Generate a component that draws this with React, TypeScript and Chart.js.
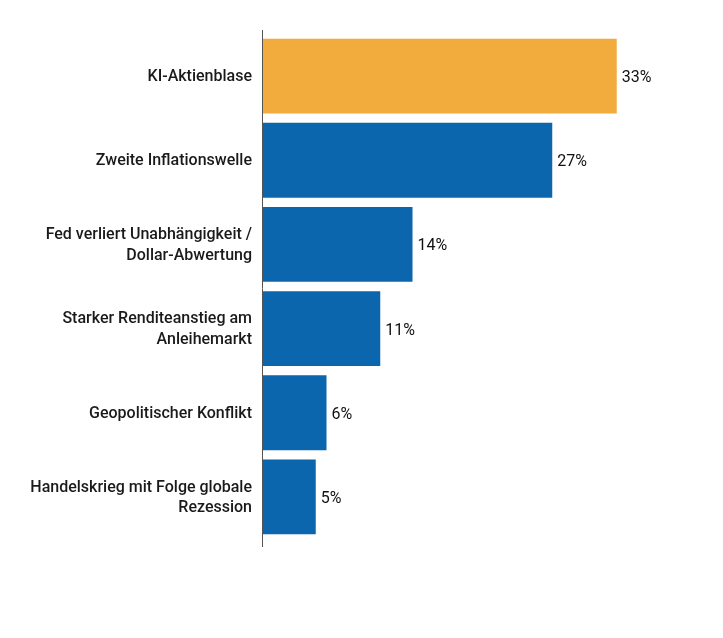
import React, { useEffect, useRef } from "react";
import { Chart, registerables } from "chart.js";

Chart.register(...registerables);

const categories: (string | string[])[] = [
  "KI-Aktienblase",
  "Zweite Inflationswelle",
  ["Fed verliert Unabhängigkeit /", "Dollar-Abwertung"],
  ["Starker Renditeanstieg am", "Anleihemarkt"],
  "Geopolitischer Konflikt",
  ["Handelskrieg mit Folge globale", "Rezession"],
];
const values: number[] = [33, 27, 14, 11, 6, 5];
const barColors: string[] = ["#F2AC3E", "#0B66AE", "#0B66AE", "#0B66AE", "#0B66AE", "#0B66AE"];

const FONT = "Roboto, 'Noto Sans', sans-serif";

const valueLabels = {
  id: "valueLabels",
  afterDatasetsDraw(chart: any) {
    const ctx = chart.ctx;
    const meta = chart.getDatasetMeta(0);
    ctx.save();
    ctx.font = `16px ${FONT}`;
    ctx.fillStyle = "#111111";
    ctx.textAlign = "left";
    ctx.textBaseline = "middle";
    meta.data.forEach((bar: any, i: number) => {
      ctx.fillText(`${values[i]}%`, bar.x + 5, bar.y + 2);
    });
    ctx.restore();
  },
};

const axisLine = {
  id: "axisLine",
  afterDatasetsDraw(chart: any) {
    const { ctx, chartArea } = chart;
    ctx.save();
    ctx.strokeStyle = "#555555";
    ctx.lineWidth = 1;
    ctx.beginPath();
    ctx.moveTo(chartArea.left + 0.5, chartArea.top - 4);
    ctx.lineTo(chartArea.left + 0.5, chartArea.bottom + 8);
    ctx.stroke();
    ctx.restore();
  },
};

export default function App() {
  const ref = useRef<HTMLCanvasElement | null>(null);
  useEffect(() => {
    if (!ref.current) return;
    const chart = new Chart(ref.current, {
      type: "bar",
      data: {
        labels: categories,
        datasets: [
          {
            data: values,
            backgroundColor: barColors,
            borderWidth: 0,
            barPercentage: 0.89,
            categoryPercentage: 1,
          },
        ],
      },
      options: {
        indexAxis: "y",
        animation: false,
        responsive: false,
        layout: { padding: { top: 26, bottom: 91, right: 23, left: 0 } },
        plugins: { legend: { display: false }, tooltip: { enabled: false } },
        scales: {
          x: { display: false, min: 0, max: 40 },
          y: {
            afterFit(scale: any) {
              scale.width = 254;
              scale.paddingTop = 0;
              scale.paddingBottom = 0;
            },
            border: { display: false },
            grid: { display: false, drawTicks: false },
            ticks: {
              padding: 10,
              labelOffset: 1,
              color: "#1a1a1a",
              font: { family: FONT, size: 16, weight: "500", lineHeight: 1.3 },
            },
          },
        },
      },
      plugins: [valueLabels, axisLine],
    });
    return () => chart.destroy();
  }, []);
  return <canvas ref={ref} width={707} height={622} style={{ display: "block" }} />;
}
